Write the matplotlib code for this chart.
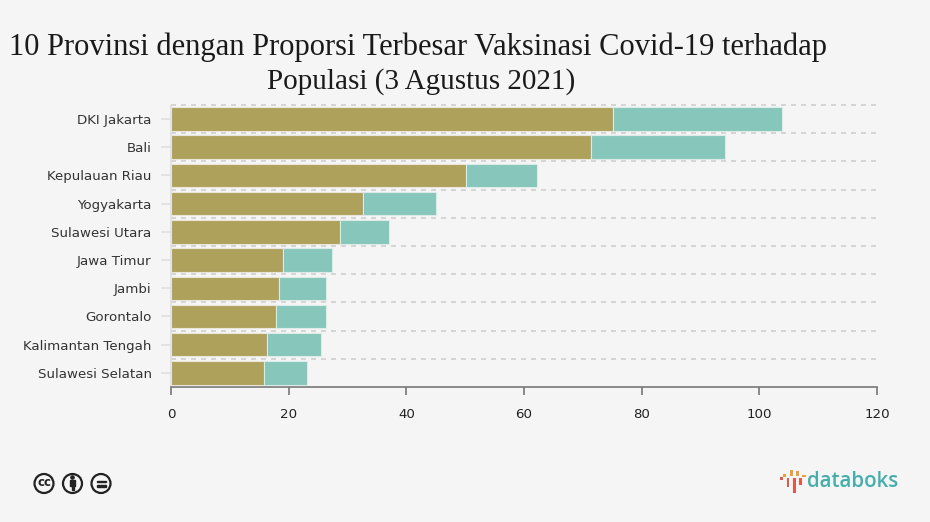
import numpy as np
from matplotlib import pyplot as plt
from matplotlib.patches import Circle, Rectangle

provinces = ['DKI Jakarta', 'Bali', 'Kepulauan Riau', 'Yogyakarta', 'Sulawesi Utara',
             'Jawa Timur', 'Jambi', 'Gorontalo', 'Kalimantan Tengah', 'Sulawesi Selatan']
dose_a = [75.1, 71.4, 50.1, 32.6, 28.7, 19.0, 18.4, 17.8, 16.3, 15.8]
dose_b = [28.7, 22.7, 12.1, 12.5, 8.3, 8.3, 7.9, 8.6, 9.2, 7.4]
x_ticks = [0, 20, 40, 60, 80, 100, 120]

title_lines = ['10 Provinsi dengan Proporsi Terbesar Vaksinasi Covid-19 terhadap',
               'Populasi (3 Agustus 2021)']

W, H = 930, 522
BG = '#f5f5f5'
plt.rcParams.update({'font.family': 'DejaVu Sans', 'font.size': 9.65})

fig = plt.figure(figsize=(W / 100, H / 100), dpi=100, facecolor=BG)
ax = fig.add_axes([171 / W, 1 - 387 / H, (877 - 171) / W, (387 - 106) / H], facecolor=BG)

# Stacked bars
y = np.arange(len(provinces))
ax.barh(y, dose_a, height=0.83, color='#aea15c', edgecolor='#e8e6d8', linewidth=0.8, zorder=3)
ax.barh(y, dose_b, left=dose_a, height=0.83, color='#87c6ba', edgecolor='#dcebe7', linewidth=0.8, zorder=3)

ax.set_xlim(0, 120)
ax.set_ylim(len(provinces) - 0.5, -0.46)
ax.set_xticks(x_ticks)
ax.set_yticks(y)
ax.set_yticklabels(provinces, color='#333333')

# Dashed lines between the bands
for edge in np.arange(len(provinces)) - 0.5:
    ax.axhline(edge, color='#cfcfcf', linewidth=1.2, linestyle=(0, (3, 3)), zorder=1, clip_on=False)

for side in ['top', 'right']:
    ax.spines[side].set_visible(False)
ax.spines['left'].set_color('#dddddd')
ax.spines['left'].set_linewidth(1.2)
ax.spines['bottom'].set_color('#777777')
ax.spines['bottom'].set_linewidth(1.2)
ax.tick_params(axis='y', length=7, width=1.2, color='#e0e0e0', pad=7)
ax.tick_params(axis='x', length=6, width=1.2, color='#777777', labelcolor='#222222', pad=9)

fig.text(418 / W, 1 - 47.5 / H, title_lines[0], family='Liberation Serif', fontsize=22, color='#1a1a1a',
         ha='center', va='center')
fig.text(421 / W, 1 - 81.5 / H, title_lines[1], family='Liberation Serif', fontsize=21, color='#1a1a1a',
         ha='center', va='center')

# Overlay in pixel coordinates for licence icons and logo
over = fig.add_axes([0, 0, 1, 1], facecolor='none')
over.set_xlim(0, W)
over.set_ylim(H, 0)
over.axis('off')

for cx in [44, 72.5, 101]:
    over.add_patch(Circle((cx, 483.5), 9.5, facecolor='none', edgecolor='#222222', linewidth=1.6))
over.text(44, 483, 'cc', fontsize=8.5, fontweight='bold', color='#222222', ha='center', va='center')
over.add_patch(Circle((72.5, 477.5), 1.6, color='#222222'))
over.add_patch(Rectangle((70.3, 480), 4.4, 5.5, color='#222222'))
over.add_patch(Rectangle((71.5, 485), 2, 5, color='#222222'))
over.add_patch(Rectangle((96.5, 480.5), 9, 1.8, color='#222222'))
over.add_patch(Rectangle((96.5, 485), 9, 1.8, color='#222222'))

# databoks logo
logo_marks = [(780, 477, 3, 3, '#e2574c'), (783, 474, 3, 3, '#e8a03c'), (786.7, 478, 2.7, 9, '#e2574c'),
              (790, 470, 2.7, 6, '#e8a03c'), (793, 478, 2.7, 15, '#e2574c'), (796, 471, 2.7, 5, '#e8a03c'),
              (799.3, 478, 2.7, 7, '#e2574c'), (802.3, 475, 3.4, 2, '#e8a03c')]
for lx, ly, lw, lh, lc in logo_marks:
    over.add_patch(Rectangle((lx, ly), lw, lh, color=lc, linewidth=0))
over.text(807, 481.5, 'databoks', family='Open Sans', fontsize=14.8, fontweight='semibold',
          color='#45aeac', ha='left', va='center')

plt.savefig('out.png', dpi=100, facecolor=BG)
